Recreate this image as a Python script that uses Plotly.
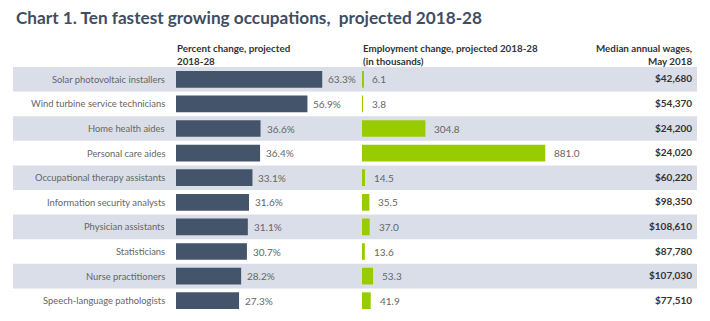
import plotly.graph_objects as go

occupations = [
    "Solar photovoltaic installers",
    "Wind turbine service technicians",
    "Home health aides",
    "Personal care aides",
    "Occupational therapy assistants",
    "Information security analysts",
    "Physician assistants",
    "Statisticians",
    "Nurse practitioners",
    "Speech-language pathologists",
]
pct_change = [63.3, 56.9, 36.6, 36.4, 33.1, 31.6, 31.1, 30.7, 28.2, 27.3]
emp_change = [6.1, 3.8, 304.8, 881.0, 14.5, 35.5, 37.0, 13.6, 53.3, 41.9]
wages = ["$42,680", "$54,370", "$24,200", "$24,020", "$60,220",
         "$98,350", "$108,610", "$87,780", "$107,030", "$77,510"]

W, H = 710, 321
def px(x):
    return x / W
def py(y):
    return 1 - y / H

FONT = "Lato"
DARK = "#44546a"
GREEN = "#99cc00"
BAND = "#d9dee8"
GRAY = "#666666"

fig = go.Figure()
fig.add_trace(go.Bar(x=pct_change, y=occupations, orientation="h",
                     marker=dict(color=DARK, line=dict(width=0)),
                     width=0.68, xaxis="x", yaxis="y", hoverinfo="skip"))
fig.add_trace(go.Bar(x=emp_change, y=occupations, orientation="h",
                     marker=dict(color=GREEN, line=dict(width=0)),
                     width=0.68, xaxis="x2", yaxis="y", hoverinfo="skip"))

shapes = []
for i, occ in enumerate(occupations):
    if i % 2 == 0:
        shapes.append(dict(type="rect", xref="paper", yref="y",
                           x0=px(13), x1=px(697), y0=i - 0.5, y1=i + 0.5,
                           fillcolor=BAND, line=dict(width=0), layer="below"))

annotations = []
for i, occ in enumerate(occupations):
    annotations.append(dict(x=px(167), y=occ, xref="paper", yref="y", text=occ,
                            xanchor="right", yanchor="middle", showarrow=False,
                            font=dict(family=FONT, size=9.4, color=GRAY)))
    annotations.append(dict(x=pct_change[i], y=occ, xref="x", yref="y",
                            text=f"{pct_change[i]:.1f}%", xanchor="left", xshift=4,
                            yanchor="middle", showarrow=False,
                            font=dict(family=FONT, size=10, color=GRAY)))
    annotations.append(dict(x=emp_change[i], y=occ, xref="x2", yref="y",
                            text=f"{emp_change[i]:.1f}", xanchor="left", xshift=7,
                            yanchor="middle", showarrow=False,
                            font=dict(family=FONT, size=10, color=GRAY)))
    annotations.append(dict(x=px(694), y=occ, xref="paper", yref="y",
                            text=f"<b>{wages[i]}</b>", xanchor="right",
                            yanchor="middle", yshift=1, showarrow=False,
                            font=dict(family=FONT, size=10, color="#333333")))

annotations.append(dict(x=px(14), y=py(17), xref="paper", yref="paper",
                        text="<b>Chart 1. Ten fastest growing occupations,  projected 2018-28</b>",
                        xanchor="left", yanchor="middle", showarrow=False,
                        font=dict(family=FONT, size=17.2, color="#3f4d63")))
hdr_font = dict(family=FONT, size=9.8, color="#333333")
annotations.append(dict(x=px(175), y=py(54), xref="paper", yref="paper",
                        text="<b>Percent change, projected<br>2018-28</b>", align="left",
                        xanchor="left", yanchor="middle", showarrow=False, font=hdr_font))
annotations.append(dict(x=px(361), y=py(54), xref="paper", yref="paper",
                        text="<b>Employment change, projected 2018-28<br>(in thousands)</b>", align="left",
                        xanchor="left", yanchor="middle", showarrow=False, font=hdr_font))
annotations.append(dict(x=px(694), y=py(54), xref="paper", yref="paper",
                        text="<b>Median annual wages,<br>May 2018</b>", align="right",
                        xanchor="right", yanchor="middle", showarrow=False, font=hdr_font))

x1_max = 70
x2_max = 900
fig.update_layout(
    width=W, height=H,
    margin=dict(l=0, r=0, t=0, b=0),
    paper_bgcolor="white", plot_bgcolor="rgba(0,0,0,0)",
    showlegend=False,
    bargap=0.32,
    xaxis=dict(domain=[px(176), px(176 + x1_max * 2.31)], range=[0, x1_max],
               visible=False, fixedrange=True),
    xaxis2=dict(domain=[px(362), px(362 + x2_max * 0.208)], range=[0, x2_max],
                visible=False, fixedrange=True, anchor="y"),
    yaxis=dict(domain=[py(313), py(67)], autorange="reversed", visible=False,
               categoryorder="array", categoryarray=occupations, fixedrange=True),
    shapes=shapes,
    annotations=annotations,
)

fig.write_html("out.html")
